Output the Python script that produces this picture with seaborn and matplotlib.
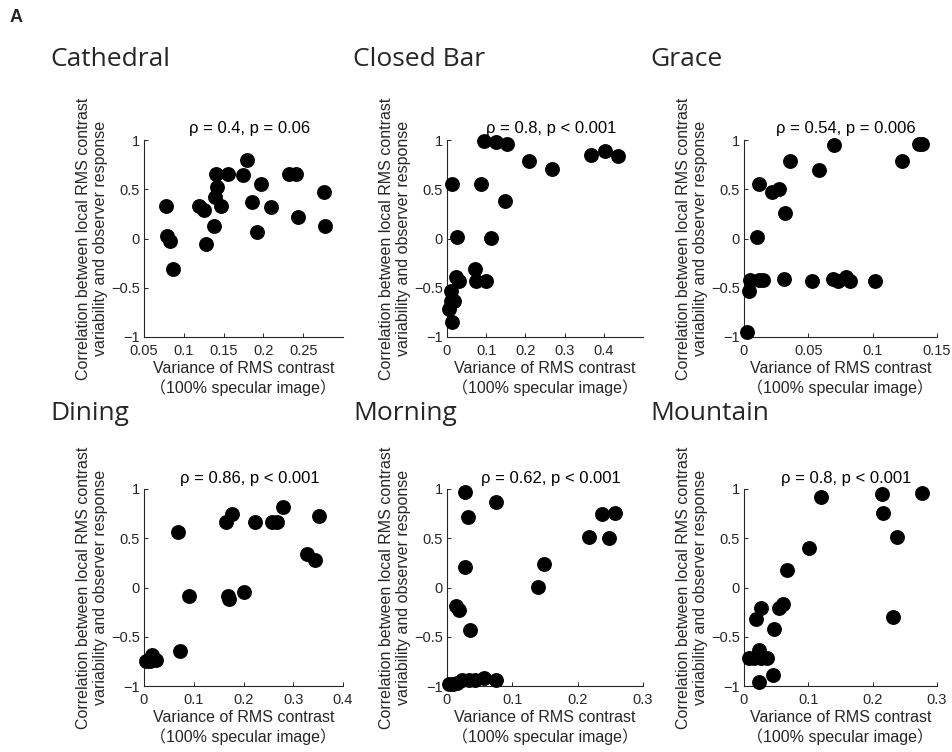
import matplotlib
matplotlib.use("Agg")
import matplotlib.pyplot as plt
import pandas as pd
import seaborn as sns

# 各シーンの散布データ (x: RMSコントラストの分散, y: 相関)
cathedral_x = [0.078, 0.079, 0.083, 0.087, 0.119, 0.125, 0.128, 0.138, 0.139, 0.141, 0.142, 0.147,
               0.156, 0.174, 0.180, 0.186, 0.192, 0.197, 0.210, 0.232, 0.241, 0.244, 0.276, 0.278]
cathedral_y = [0.33, 0.03, -0.03, -0.31, 0.33, 0.29, -0.06, 0.13, 0.42, 0.65, 0.52, 0.33,
               0.65, 0.64, 0.80, 0.37, 0.07, 0.55, 0.32, 0.65, 0.65, 0.22, 0.47, 0.13]

closed_bar_x = [0.095, 0.125, 0.152, 0.012, 0.087, 0.148, 0.026, 0.111, 0.072, 0.074, 0.099, 0.022,
                0.030, 0.011, 0.009, 0.017, 0.004, 0.012, 0.209, 0.268, 0.367, 0.403, 0.435]
closed_bar_y = [0.99, 0.98, 0.96, 0.55, 0.55, 0.38, 0.02, 0.01, -0.31, -0.43, -0.43, -0.39,
                -0.43, -0.53, -0.63, -0.63, -0.72, -0.85, 0.79, 0.71, 0.85, 0.89, 0.84]

grace_x = [0.070, 0.136, 0.138, 0.1225, 0.036, 0.058, 0.012, 0.022, 0.027, 0.0315, 0.010, 0.004,
           0.005, 0.012, 0.015, 0.031, 0.053, 0.069, 0.073, 0.079, 0.082, 0.102, 0.002]
grace_y = [0.95, 0.96, 0.96, 0.79, 0.79, 0.70, 0.55, 0.47, 0.50, 0.26, 0.02, -0.53,
           -0.42, -0.42, -0.42, -0.41, -0.43, -0.41, -0.43, -0.39, -0.43, -0.43, -0.95]

dining_x = [0.069, 0.165, 0.176, 0.224, 0.257, 0.268, 0.280, 0.352, 0.327, 0.344, 0.090, 0.169,
            0.170, 0.201, 0.073, 0.005, 0.013, 0.017, 0.0235]
dining_y = [0.56, 0.66, 0.75, 0.66, 0.66, 0.66, 0.82, 0.73, 0.34, 0.28, -0.085, -0.085,
            -0.115, -0.047, -0.64, -0.75, -0.75, -0.69, -0.74]

morning_x = [0.027, 0.075, 0.0325, 0.027, 0.014, 0.019, 0.035, 0.140, 0.149, 0.218, 0.238, 0.248,
             0.257, 0.0025, 0.0086, 0.0147, 0.023, 0.033, 0.043, 0.056, 0.075]
morning_y = [0.97, 0.87, 0.72, 0.21, -0.19, -0.23, -0.43, 0.01, 0.235, 0.51, 0.75, 0.50,
             0.76, -0.976, -0.976, -0.965, -0.937, -0.937, -0.937, -0.923, -0.937]

mountain_x = [0.120, 0.215, 0.276, 0.2165, 0.238, 0.1005, 0.0665, 0.060, 0.055, 0.026, 0.0186, 0.046,
              0.232, 0.0077, 0.0155, 0.024, 0.026, 0.036, 0.045, 0.023]
mountain_y = [0.92, 0.95, 0.96, 0.76, 0.51, 0.40, 0.18, -0.17, -0.21, -0.21, -0.32, -0.42,
              -0.30, -0.72, -0.72, -0.63, -0.72, -0.72, -0.89, -0.96]

scene_names = ["Cathedral", "Closed Bar", "Grace", "Dining", "Morning", "Mountain"]
stats_text = ["ρ = 0.4, p = 0.06", "ρ = 0.8, p < 0.001", "ρ = 0.54, p = 0.006",
              "ρ = 0.86, p < 0.001", "ρ = 0.62, p < 0.001", "ρ = 0.8, p < 0.001"]
x_ticks = [[0.05, 0.1, 0.15, 0.2, 0.25], [0, 0.1, 0.2, 0.3, 0.4], [0, 0.05, 0.1, 0.15],
           [0, 0.1, 0.2, 0.3, 0.4], [0, 0.1, 0.2, 0.3], [0, 0.1, 0.2, 0.3]]
x_limits = [(0.05, 0.3), (0, 0.5), (0, 0.15), (0, 0.4), (0, 0.3), (0, 0.3)]
y_ticks = [-1, -0.5, 0, 0.5, 1]

scene_data = [(cathedral_x, cathedral_y), (closed_bar_x, closed_bar_y), (grace_x, grace_y),
              (dining_x, dining_y), (morning_x, morning_y), (mountain_x, mountain_y)]

sns.set_theme(style="ticks")
plt.rcParams["font.family"] = ["Liberation Sans", "Noto Sans CJK JP", "DejaVu Sans"]
plt.rcParams["axes.unicode_minus"] = True

W, H = 953, 752
fig = plt.figure(figsize=(W / 100, H / 100), dpi=100)

col_left = [144, 447, 744]
col_width = [199, 196, 193]
row_top = [140, 489]
title_y = [60, 413]
ax_h = 197
dark = "#262626"

fig.text(10 / W, 1 - 17 / H, "A", fontsize=13, fontweight="bold", va="center", ha="left")

for i, name in enumerate(scene_names):
    r, c = divmod(i, 3)
    left, top, w = col_left[c], row_top[r], col_width[c]
    ax = fig.add_axes([left / W, 1 - (top + ax_h) / H, w / W, ax_h / H])
    xs, ys = scene_data[i]
    df = pd.DataFrame({"x": xs, "y": ys})
    sns.scatterplot(data=df, x="x", y="y", ax=ax, color="black", s=115,
                    linewidth=0, legend=False, clip_on=False, zorder=3)
    ax.set_xlim(*x_limits[i])
    ax.set_ylim(-1, 1)
    ax.set_xticks(x_ticks[i])
    ax.set_xticklabels([f"{t:g}" for t in x_ticks[i]])
    ax.set_yticks(y_ticks)
    ax.set_yticklabels(["\u22121", "\u22120.5", "0", "0.5", "1"])
    ax.tick_params(direction="in", length=3, width=0.7, labelsize=10.5, colors=dark)
    ax.tick_params(axis="x", pad=5)
    ax.tick_params(axis="y", pad=3)
    sns.despine(ax=ax)
    for sp in ("left", "bottom"):
        ax.spines[sp].set_color(dark)
        ax.spines[sp].set_linewidth(0.8)

    ax.set_xlabel("Variance of RMS contrast\n（100% specular image）", fontsize=11.5,
                  color=dark, linespacing=1.3)
    ax.xaxis.set_label_coords(0.5, -0.12)
    ax.set_ylabel("Correlation between local RMS contrast\nvariability and observer response",
                  fontsize=11.5, color=dark, linespacing=1.15)
    ax.yaxis.set_label_coords(-36 / w, 0.5)

    ax.text(0.53, 1 + 11 / ax_h, stats_text[i], transform=ax.transAxes,
            ha="center", va="center", fontsize=12, color="black")

    fig.text((left - 94) / W, 1 - title_y[r] / H, name, fontsize=19,
             family=["Open Sans", "DejaVu Sans"], ha="left", va="center")

fig.savefig("out.png", dpi=100)
plt.close(fig)
